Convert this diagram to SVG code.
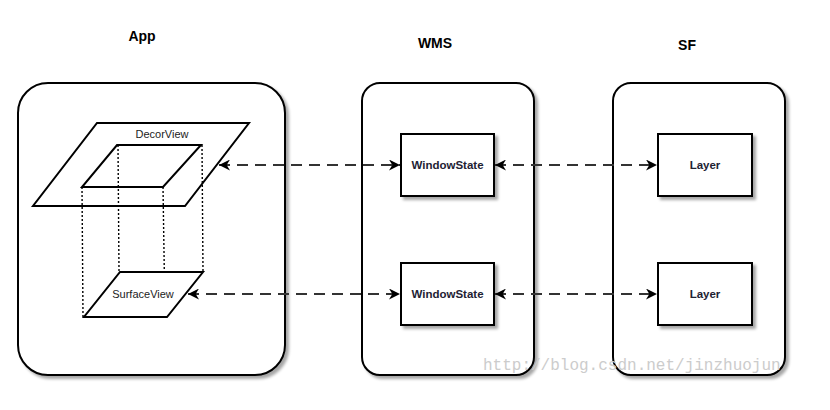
<svg xmlns="http://www.w3.org/2000/svg" width="830" height="410" viewBox="0 0 830 410">
<defs>
<filter id="sh" x="-10%" y="-10%" width="130%" height="130%">
<feGaussianBlur in="SourceAlpha" stdDeviation="1.5"/>
<feOffset dx="3" dy="3" result="b"/>
<feComponentTransfer><feFuncA type="linear" slope="0.35"/></feComponentTransfer>
<feMerge><feMergeNode/><feMergeNode in="SourceGraphic"/></feMerge>
</filter>
<marker id="ah" viewBox="0 0 10 10" refX="10" refY="5" markerWidth="11" markerHeight="11" markerUnits="userSpaceOnUse" orient="auto-start-reverse">
<path d="M0,0 L10,5 L0,10 L3,5 Z" fill="#000"/>
</marker>
</defs>
<style>
.frame{fill:#fff;stroke:#000;stroke-width:2}
.box{fill:#fff;stroke:#000;stroke-width:2}
.para{fill:#fff;stroke:#000;stroke-width:2;stroke-linejoin:miter}
.dot{fill:none;stroke:#000;stroke-width:1.4;stroke-dasharray:2 2}
.title{font-family:"Liberation Sans",Arial,sans-serif;font-weight:bold;font-size:14px;fill:#000;text-anchor:middle}
.lbl{font-family:"Liberation Sans",Arial,sans-serif;font-size:11px;fill:#222;text-anchor:middle}
.nb{font-weight:bold;font-size:11.5px;fill:#223}
.conn{fill:none;stroke:#333;stroke-width:2;stroke-dasharray:11 7;marker-start:url(#ah);marker-end:url(#ah)}
.wm{font-family:"Liberation Mono","DejaVu Sans Mono",monospace;font-size:16px;fill:#ccc}
</style>
<rect width="830" height="410" fill="#fff"/>
<text class="title" x="142" y="41">App</text>
<text class="title" x="435" y="48">WMS</text>
<text class="title" x="687" y="50">SF</text>
<g id="app">
<rect class="frame" x="18" y="83" width="267" height="292" rx="30" filter="url(#sh)"/>
<g id="decorview">
<polygon class="para" points="97,123 249,123 185,206 33,206"/>
<polygon class="para" points="117,145 201,145 163,187 82,187"/>
<text class="lbl" x="162" y="138">DecorView</text>
</g>
<g id="surfaceview">
<line class="dot" x1="82" y1="187" x2="83" y2="317"/>
<line class="dot" x1="163" y1="187" x2="165" y2="317"/>
<line class="dot" x1="118" y1="145" x2="119" y2="272"/>
<line class="dot" x1="202" y1="145" x2="203" y2="272"/>
<polygon class="para" points="120,272 203,272 167,317 84,317"/>
<text class="lbl" x="143" y="298">SurfaceView</text>
</g>
</g>
<g id="wms">
<rect class="frame" x="362" y="83" width="172" height="292" rx="18" filter="url(#sh)"/>
</g>
<g id="sf">
<rect class="frame" x="613" y="83" width="172" height="292" rx="18" filter="url(#sh)"/>
</g>
<g id="windowstate1">
<rect class="box" x="401" y="134" width="93" height="62" filter="url(#sh)"/>
<text class="lbl nb" x="447.5" y="169">WindowState</text>
</g>
<g id="windowstate2">
<rect class="box" x="401" y="263" width="93" height="62" filter="url(#sh)"/>
<text class="lbl nb" x="447.5" y="298">WindowState</text>
</g>
<g id="layer1">
<rect class="box" x="658" y="134" width="94" height="62" filter="url(#sh)"/>
<text class="lbl nb" x="705" y="169">Layer</text>
</g>
<g id="layer2">
<rect class="box" x="658" y="263" width="94" height="62" filter="url(#sh)"/>
<text class="lbl nb" x="705" y="298">Layer</text>
</g>
<g id="connectors">
<line class="conn" x1="219" y1="165" x2="400" y2="165"/>
<line class="conn" x1="188" y1="294" x2="400" y2="294"/>
<line class="conn" x1="495" y1="165" x2="657" y2="165"/>
<line class="conn" x1="495" y1="294" x2="657" y2="294"/>
</g>
<text class="wm" x="483" y="370">http://blog.csdn.net/jinzhuojun</text>
</svg>
